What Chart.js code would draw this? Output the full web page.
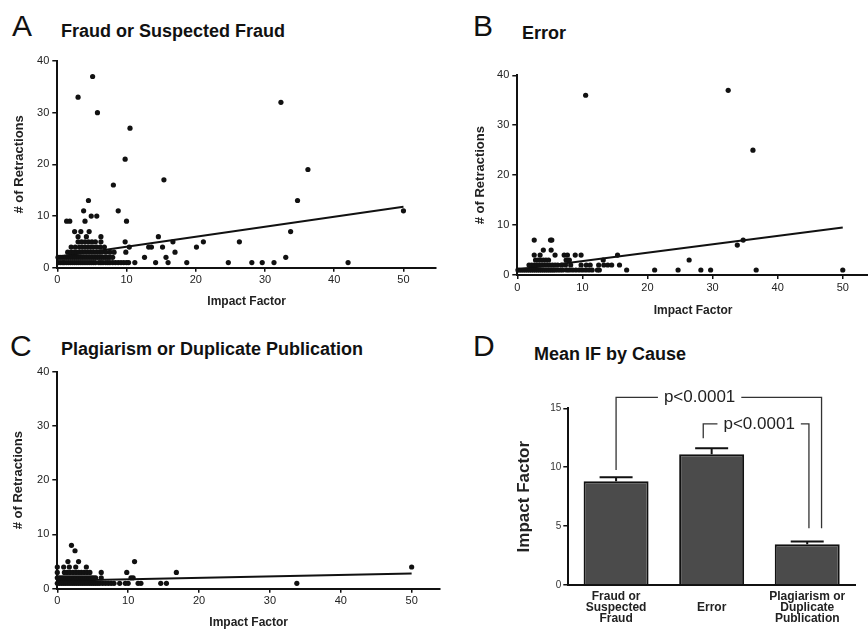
<!DOCTYPE html>
<html>
<head>
<meta charset="utf-8">
<script src="https://cdn.jsdelivr.net/npm/chart.js@4.4.1/dist/chart.umd.min.js"></script>
<style>
html, body { margin: 0; padding: 0; background: #fff; width: 868px; height: 629px; overflow: hidden; }
body { position: relative; font-family: "Liberation Sans", Arial, sans-serif; color: #111; }
canvas { position: absolute; }
.letter { position: absolute; font-size: 30px; line-height: 30px; }
.title { position: absolute; font-size: 18px; line-height: 18px; font-weight: bold; }
</style>
</head>
<body>
<div class="letter" style="left:12px; top:11px;">A</div>
<div class="title" style="left:61px; top:22px;">Fraud or Suspected Fraud</div>
<div class="letter" style="left:473px; top:11px;">B</div>
<div class="title" style="left:522px; top:24px;">Error</div>
<div class="letter" style="left:10px; top:331px;">C</div>
<div class="title" style="left:61px; top:340px;">Plagiarism or Duplicate Publication</div>
<div class="letter" style="left:473px; top:331px;">D</div>
<div class="title" style="left:534px; top:345px;">Mean IF by Cause</div>

<canvas id="cA" width="440" height="312" style="left:0px; top:0px;"></canvas>
<canvas id="cB" width="440" height="325" style="left:440px; top:0px;"></canvas>
<canvas id="cC" width="444" height="330" style="left:0px; top:300px;"></canvas>
<canvas id="cD" width="428" height="329" style="left:440px; top:300px;"></canvas>

<script>
// journal impact factor vs. number of retractions, [IF, count]
const fraudPoints = [
  [0.2,1],[0.5,1],[0.8,1],[1.0,1],[1.3,1],[1.6,1],[1.9,1],[2.2,1],[2.5,1],[2.8,1],[3.1,1],[3.4,1],[3.7,1],[4.0,1],
  [4.3,1],[4.6,1],[4.9,1],[5.2,1],[5.5,1],[6.0,1],[6.3,1],[6.6,1],[7.0,1],[7.3,1],[7.6,1],[8.0,1],[8.4,1],[8.8,1],
  [9.2,1],[9.6,1],[10.0,1],[10.3,1],[11.2,1],[14.2,1],[16.0,1],[18.7,1],[24.7,1],[28.1,1],[29.6,1],[31.3,1],[42.0,1],
  [0.1,2],[0.4,2],[0.7,2],[1.0,2],[1.3,2],[1.6,2],[1.9,2],[2.2,2],[2.5,2],[2.8,2],[3.1,2],[3.4,2],[3.7,2],[4.0,2],
  [4.3,2],[4.6,2],[4.9,2],[5.2,2],[5.5,2],[5.8,2],[6.1,2],[6.4,2],[6.7,2],[7.0,2],[7.3,2],[7.6,2],[8.0,2],[12.6,2],
  [15.7,2],[33.0,2],
  [1.5,3],[2.0,3],[2.4,3],[2.8,3],[3.2,3],[3.6,3],[4.0,3],[4.4,3],[4.8,3],[5.2,3],[5.6,3],[6.0,3],[6.4,3],[7.0,3],
  [7.6,3],[8.2,3],[9.9,3],[17.0,3],
  [2.0,4],[2.6,4],[3.2,4],[3.6,4],[4.0,4],[4.4,4],[4.8,4],[5.2,4],[5.7,4],[6.2,4],[6.8,4],[10.4,4],[13.2,4],[13.6,4],
  [15.2,4],[20.1,4],
  [3.0,5],[3.5,5],[4.0,5],[4.5,5],[5.0,5],[5.5,5],[6.3,5],[9.8,5],[16.7,5],[21.1,5],[26.3,5],
  [3.0,6],[4.2,6],[6.3,6],[14.6,6],
  [2.5,7],[3.4,7],[4.6,7],[33.7,7],
  [1.35,9],[1.8,9],[4.0,9],[10.0,9],
  [4.9,10],[5.7,10],
  [3.8,11],[8.8,11],[50.0,11],
  [4.5,13],[34.7,13],
  [8.1,16],[15.4,17],[36.2,19],[9.8,21],[10.5,27],[5.8,30],[32.3,32],[3.0,33],[5.1,37]
];
const fraudFit = [[0, 2.1], [50, 11.8]];

const errorPoints = [
  [0.1,1],[0.4,1],[0.7,1],[1.0,1],[1.3,1],[1.6,1],[1.9,1],[2.2,1],[2.5,1],[2.8,1],[3.1,1],[3.4,1],[3.7,1],[4.0,1],
  [4.3,1],[4.6,1],[4.9,1],[5.2,1],[5.5,1],[5.8,1],[6.2,1],[6.6,1],[7.0,1],[7.6,1],[8.0,1],[8.5,1],[9.0,1],[9.5,1],
  [10.0,1],[10.5,1],[11.0,1],[11.5,1],[12.3,1],[12.6,1],[16.8,1],[21.1,1],[24.7,1],[28.2,1],[29.7,1],[36.7,1],[50.0,1],
  [1.8,2],[2.2,2],[2.6,2],[3.0,2],[3.4,2],[3.8,2],[4.2,2],[4.6,2],[5.0,2],[5.4,2],[5.8,2],[6.2,2],[6.8,2],[7.4,2],
  [8.2,2],[9.8,2],[10.6,2],[11.2,2],[12.5,2],[13.3,2],[13.9,2],[14.5,2],[15.7,2],
  [2.8,3],[3.2,3],[3.6,3],[4.0,3],[4.4,3],[4.8,3],[7.5,3],[8.0,3],[13.2,3],[26.4,3],
  [2.6,4],[3.5,4],[5.8,4],[7.2,4],[7.7,4],[8.9,4],[9.8,4],[15.4,4],
  [4.0,5],[5.2,5],
  [33.8,6],
  [2.6,7],[5.1,7],[5.3,7],[34.7,7],
  [36.2,25],[10.5,36],[32.4,37]
];
const errorFit = [[0, 1.1], [50, 9.5]];

const plagPoints = [
  [0,1],[0.3,1],[0.6,1],[0.9,1],[1.2,1],[1.5,1],[1.8,1],[2.1,1],[2.4,1],[2.7,1],[3.0,1],[3.3,1],[3.6,1],[3.9,1],
  [4.2,1],[4.5,1],[4.8,1],[5.1,1],[5.4,1],[5.7,1],[6.0,1],[6.4,1],[6.8,1],[7.2,1],[7.6,1],[8.0,1],[8.8,1],[9.6,1],
  [10.0,1],[11.4,1],[11.8,1],[14.6,1],[15.4,1],[33.8,1],
  [0,2],[0.3,2],[0.6,2],[0.9,2],[1.2,2],[1.5,2],[1.8,2],[2.1,2],[2.4,2],[2.7,2],[3.0,2],[3.3,2],[3.6,2],[3.9,2],
  [4.2,2],[4.5,2],[4.8,2],[5.1,2],[5.4,2],[6.2,2],[10.4,2],[10.7,2],
  [0,3],[1.0,3],[1.4,3],[1.8,3],[2.2,3],[2.6,3],[3.0,3],[3.4,3],[3.8,3],[4.2,3],[4.6,3],[6.2,3],[9.8,3],[16.8,3],
  [0,4],[0.9,4],[1.7,4],[2.6,4],[4.1,4],[50.0,4],
  [1.5,5],[3.0,5],[10.9,5],
  [2.5,7],[2.0,8]
];
const plagFit = [[0, 1.45], [50, 2.8]];

const impactTicks = [0, 10, 20, 30, 40, 50];
const countTicks = [0, 10, 20, 30, 40];

// panel D
const causeLabels = [['Fraud or', 'Suspected', 'Fraud'], ['Error'], ['Plagiarism or', 'Duplicate', 'Publication']];
const meanIF = [8.8, 11.1, 3.45];
const semIF = [0.35, 0.5, 0.25];
const meanTicks = [0, 5, 10, 15];
const brackets = [
  { from: 0, to: 2.15, yFrom: 9.76, yTop: 15.93, yTo: 4.81, textAt: 0.874, label: 'p<0.0001' },
  { from: 0.912, to: 2.018, yFrom: 12.45, yTop: 13.67, yTo: 4.81, textAt: 1.497, label: 'p<0.0001' }
];

const FAMILY = '"Liberation Sans", Arial, sans-serif';
Chart.defaults.font.family = FAMILY;

function scatterPanel(id, points, fit, geo) {
  return new Chart(document.getElementById(id), {
    type: 'scatter',
    data: {
      datasets: [
        {
          data: points.map(p => ({ x: p[0], y: p[1] })),
          pointRadius: 2.6,
          pointBackgroundColor: '#111',
          pointBorderWidth: 0,
          clip: false
        },
        {
          data: fit.map(p => ({ x: p[0], y: p[1] })),
          showLine: true,
          borderColor: '#111',
          borderWidth: 2,
          pointRadius: 0,
          clip: false
        }
      ]
    },
    options: {
      responsive: false,
      animation: false,
      layout: { padding: geo.pad },
      plugins: { legend: { display: false }, tooltip: { enabled: false } },
      scales: {
        x: {
          type: 'linear', min: 0, max: geo.xMax,
          afterBuildTicks: s => { s.ticks = impactTicks.map(v => ({ value: v })); },
          afterFit: s => { s.height = geo.xH; },
          border: { color: '#111', width: 2 },
          grid: { drawOnChartArea: false, tickLength: 4, color: '#111', lineWidth: 1.5 },
          ticks: { font: { size: 11 }, color: '#222', padding: 2, maxRotation: 0 },
          title: { display: true, text: 'Impact Factor', color: '#222',
                   font: { size: 12, weight: 'bold' }, padding: { top: 0, bottom: geo.xTitlePad } }
        },
        y: {
          type: 'linear', min: 0, max: 40,
          afterBuildTicks: s => { s.ticks = countTicks.map(v => ({ value: v })); },
          afterFit: s => { s.width = geo.yW; },
          border: { color: '#111', width: 2 },
          grid: { drawOnChartArea: false, tickLength: 5, color: '#111', lineWidth: 1.5 },
          ticks: { font: { size: 11 }, color: '#222', padding: 3 },
          title: { display: true, text: '# of Retractions', color: '#222',
                   font: { size: 13, weight: 'bold' }, padding: { top: geo.yTitlePad, bottom: 0 } }
        }
      }
    }
  });
}

scatterPanel('cA', fraudPoints, fraudFit,
  { pad: { left: 0, top: 61, right: 3.3, bottom: 0 }, xMax: 54.7, yW: 57.3, xH: 44.3, xTitlePad: 3.3, yTitlePad: 11.2 });
scatterPanel('cB', errorPoints, errorFit,
  { pad: { left: 0, top: 75.3, right: 11.2, bottom: 0 }, xMax: 54, yW: 77.3, xH: 50, xTitlePad: 7.3, yTitlePad: 32.9 });
scatterPanel('cC', plagPoints, plagFit,
  { pad: { left: 0, top: 71.7, right: 0, bottom: 0 }, xMax: 54, yW: 57.3, xH: 41.3, xTitlePad: 0, yTitlePad: 10.5 });

const sigPlugin = {
  id: 'sig',
  afterDatasetsDraw(chart) {
    const { ctx, scales: { x, y } } = chart;
    const meta = chart.getDatasetMeta(0);
    ctx.save();
    // SEM error bars
    ctx.strokeStyle = '#111';
    ctx.lineWidth = 2;
    meta.data.forEach((bar, i) => {
      const top = y.getPixelForValue(meanIF[i] + semIF[i]);
      ctx.beginPath();
      ctx.moveTo(bar.x, bar.y);
      ctx.lineTo(bar.x, top);
      ctx.moveTo(bar.x - 16.5, top);
      ctx.lineTo(bar.x + 16.5, top);
      ctx.stroke();
    });
    // significance brackets
    ctx.strokeStyle = '#333';
    ctx.lineWidth = 1.3;
    ctx.font = '17px ' + FAMILY;
    ctx.fillStyle = '#222';
    ctx.textAlign = 'center';
    ctx.textBaseline = 'middle';
    brackets.forEach(b => {
      const x1 = x.getPixelForValue(b.from), x2 = x.getPixelForValue(b.to);
      const yt = y.getPixelForValue(b.yTop);
      const tx = x.getPixelForValue(b.textAt);
      const half = ctx.measureText(b.label).width / 2 + 6;
      ctx.beginPath();
      ctx.moveTo(x1, y.getPixelForValue(b.yFrom));
      ctx.lineTo(x1, yt);
      ctx.lineTo(tx - half, yt);
      ctx.moveTo(tx + half, yt);
      ctx.lineTo(x2, yt);
      ctx.lineTo(x2, y.getPixelForValue(b.yTo));
      ctx.stroke();
      ctx.fillText(b.label, tx, yt);
    });
    ctx.restore();
  }
};

new Chart(document.getElementById('cD'), {
  type: 'bar',
  data: {
    labels: causeLabels,
    datasets: [{
      data: meanIF,
      backgroundColor: '#4b4b4b',
      borderColor: '#111',
      borderWidth: 2,
      barPercentage: 0.68,
      categoryPercentage: 1
    }]
  },
  options: {
    responsive: false,
    animation: false,
    layout: { padding: { left: 0, top: 108.3, right: 13, bottom: 0 } },
    plugins: { legend: { display: false }, tooltip: { enabled: false } },
    scales: {
      x: {
        afterFit: s => { s.height = 44; },
        border: { color: '#111', width: 2 },
        grid: { display: false, drawTicks: false },
        ticks: { font: { size: 12, weight: 'bold', lineHeight: 0.92 }, color: '#222', padding: 12,
                 crossAlign: 'center', maxRotation: 0, autoSkip: false }
      },
      y: {
        min: 0, max: 15,
        afterBuildTicks: s => { s.ticks = meanTicks.map(v => ({ value: v })); },
        afterFit: s => { s.width = 128.3; },
        border: { color: '#111', width: 2 },
        grid: { drawOnChartArea: false, tickLength: 5, color: '#111', lineWidth: 1.5 },
        ticks: { font: { size: 10 }, color: '#333', padding: 2 },
        title: { display: true, text: 'Impact Factor', color: '#222',
                 font: { size: 17, weight: 'bold' }, padding: { top: 73.8, bottom: 0 } }
      }
    }
  },
  plugins: [sigPlugin]
});
</script>
</body>
</html>
